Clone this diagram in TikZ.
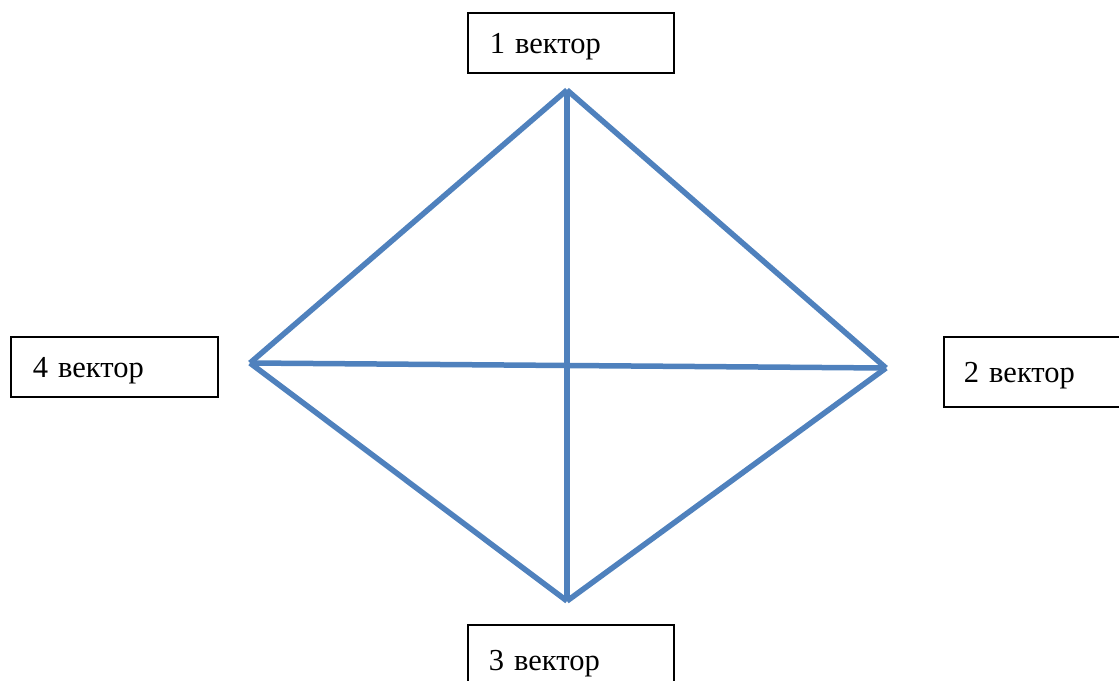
\documentclass[tikz,border=0pt]{standalone}
\usepackage{fontspec}
\setmainfont{Liberation Serif}
\usepackage{xcolor}
\usetikzlibrary{positioning}
\definecolor{vecblue}{HTML}{4F81BD}
\tikzset{
  vecbox/.style={draw,line width=1.6pt,anchor=north west,minimum height=60pt,
    text width=#1,inner xsep=0pt,inner ysep=0pt,align=left,
    text height=22pt,text depth=0pt},
  edge/.style={vecblue,line width=5.5pt}
}

\begin{document}
\begin{tikzpicture}[x=1pt,y=-1pt,font=\fontsize{30.5}{36}\selectfont]
\useasboundingbox (0,0) rectangle (1119,680);
\clip (0,0) rectangle (1119,680);
% label boxes
\node[vecbox=206pt] (b1) at (467,12) {\hspace*{22pt}1 вектор};
\node[vecbox=220pt,minimum height=70pt] (b2) at (943,336) {\hspace*{20pt}2 вектор};
\node[vecbox=206pt,minimum height=70pt] (b3) at (467,624) {\hspace*{21pt}3 вектор};
\node[vecbox=207pt] (b4) at (10,336) {\hspace*{22pt}4 вектор};
% corners of the rhombus
\coordinate (v1) at (567,90);
\coordinate (v2) at (886,368);
\coordinate (v3) at (567,601);
\coordinate (v4) at (250,363);
\draw[edge] (v1) -- (v2);
\draw[edge] (v2) -- (v3);
\draw[edge] (v3) -- (v4);
\draw[edge] (v4) -- (v1);
\draw[edge] (v1) -- (v3);
\draw[edge] (v4) -- (v2);
\end{tikzpicture}
\end{document}
